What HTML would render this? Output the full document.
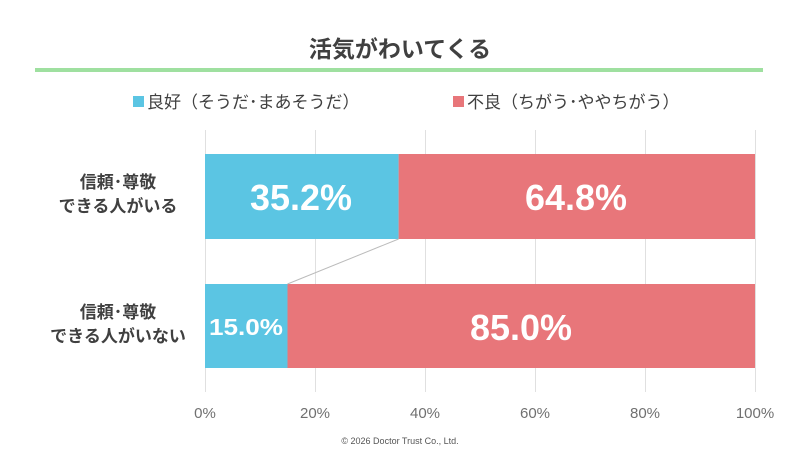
<!DOCTYPE html>
<html><head><meta charset="utf-8"><style>
body{margin:0;width:800px;height:450px;background:#fff;overflow:hidden;font-family:"Liberation Sans","Noto Sans CJK JP",sans-serif;}
</style></head><body>
<svg width="800" height="450" xmlns="http://www.w3.org/2000/svg" style="font-family:'Liberation Sans','Noto Sans CJK JP',sans-serif">
<text x="400" y="57" text-anchor="middle" font-size="23" font-weight="bold" fill="#404040">活気がわいてくる</text>
<rect x="35" y="68" width="728" height="4" fill="#9fe0a0"/>
<rect x="133" y="96" width="11" height="11" fill="#5bc5e3"/>
<text x="147" y="108" font-size="17" fill="#404040">良好（そうだ･まあそうだ）</text>
<rect x="453" y="96" width="11" height="11" fill="#e8767a"/>
<text x="467" y="108" font-size="17" fill="#404040">不良（ちがう･ややちがう）</text>
<g stroke="#e0e0e0" stroke-width="1">
<line x1="205.5" y1="130" x2="205.5" y2="392"/><line x1="315.5" y1="130" x2="315.5" y2="392"/>
<line x1="425.5" y1="130" x2="425.5" y2="392"/><line x1="535.5" y1="130" x2="535.5" y2="392"/>
<line x1="645.5" y1="130" x2="645.5" y2="392"/><line x1="755.5" y1="130" x2="755.5" y2="392"/>
</g>
<rect x="205" y="154" width="193.6" height="85" fill="#5bc5e3"/>
<rect x="398.6" y="154" width="356.4" height="85" fill="#e8767a"/>
<rect x="205" y="284" width="82.5" height="84" fill="#5bc5e3"/>
<rect x="287.5" y="284" width="467.5" height="84" fill="#e8767a"/>
<line x1="398.6" y1="239" x2="287.5" y2="284" stroke="#bbb" stroke-width="1"/>
<g fill="#fff" font-size="36" font-weight="bold">
<text x="250" y="210" textLength="102" lengthAdjust="spacingAndGlyphs">35.2%</text>
<text x="525" y="210" textLength="102" lengthAdjust="spacingAndGlyphs">64.8%</text>
<text x="470" y="340" textLength="102" lengthAdjust="spacingAndGlyphs">85.0%</text></g>
<text x="209" y="335" fill="#fff" font-size="23" font-weight="bold" textLength="74" lengthAdjust="spacingAndGlyphs">15.0%</text>
<g font-size="17" font-weight="bold" fill="#404040" text-anchor="middle">
<text x="118" y="188">信頼･尊敬</text><text x="118" y="212">できる人がいる</text>
<text x="118" y="318">信頼･尊敬</text><text x="118" y="342">できる人がいない</text></g>
<g font-size="15" fill="#707070" text-anchor="middle">
<text x="205" y="418">0%</text><text x="315" y="418">20%</text><text x="425" y="418">40%</text>
<text x="535" y="418">60%</text><text x="645" y="418">80%</text><text x="755" y="418">100%</text></g>
<text x="400" y="444" font-size="9" fill="#555" text-anchor="middle">©  2026 Doctor Trust Co., Ltd.</text>
</svg>
</body></html>
